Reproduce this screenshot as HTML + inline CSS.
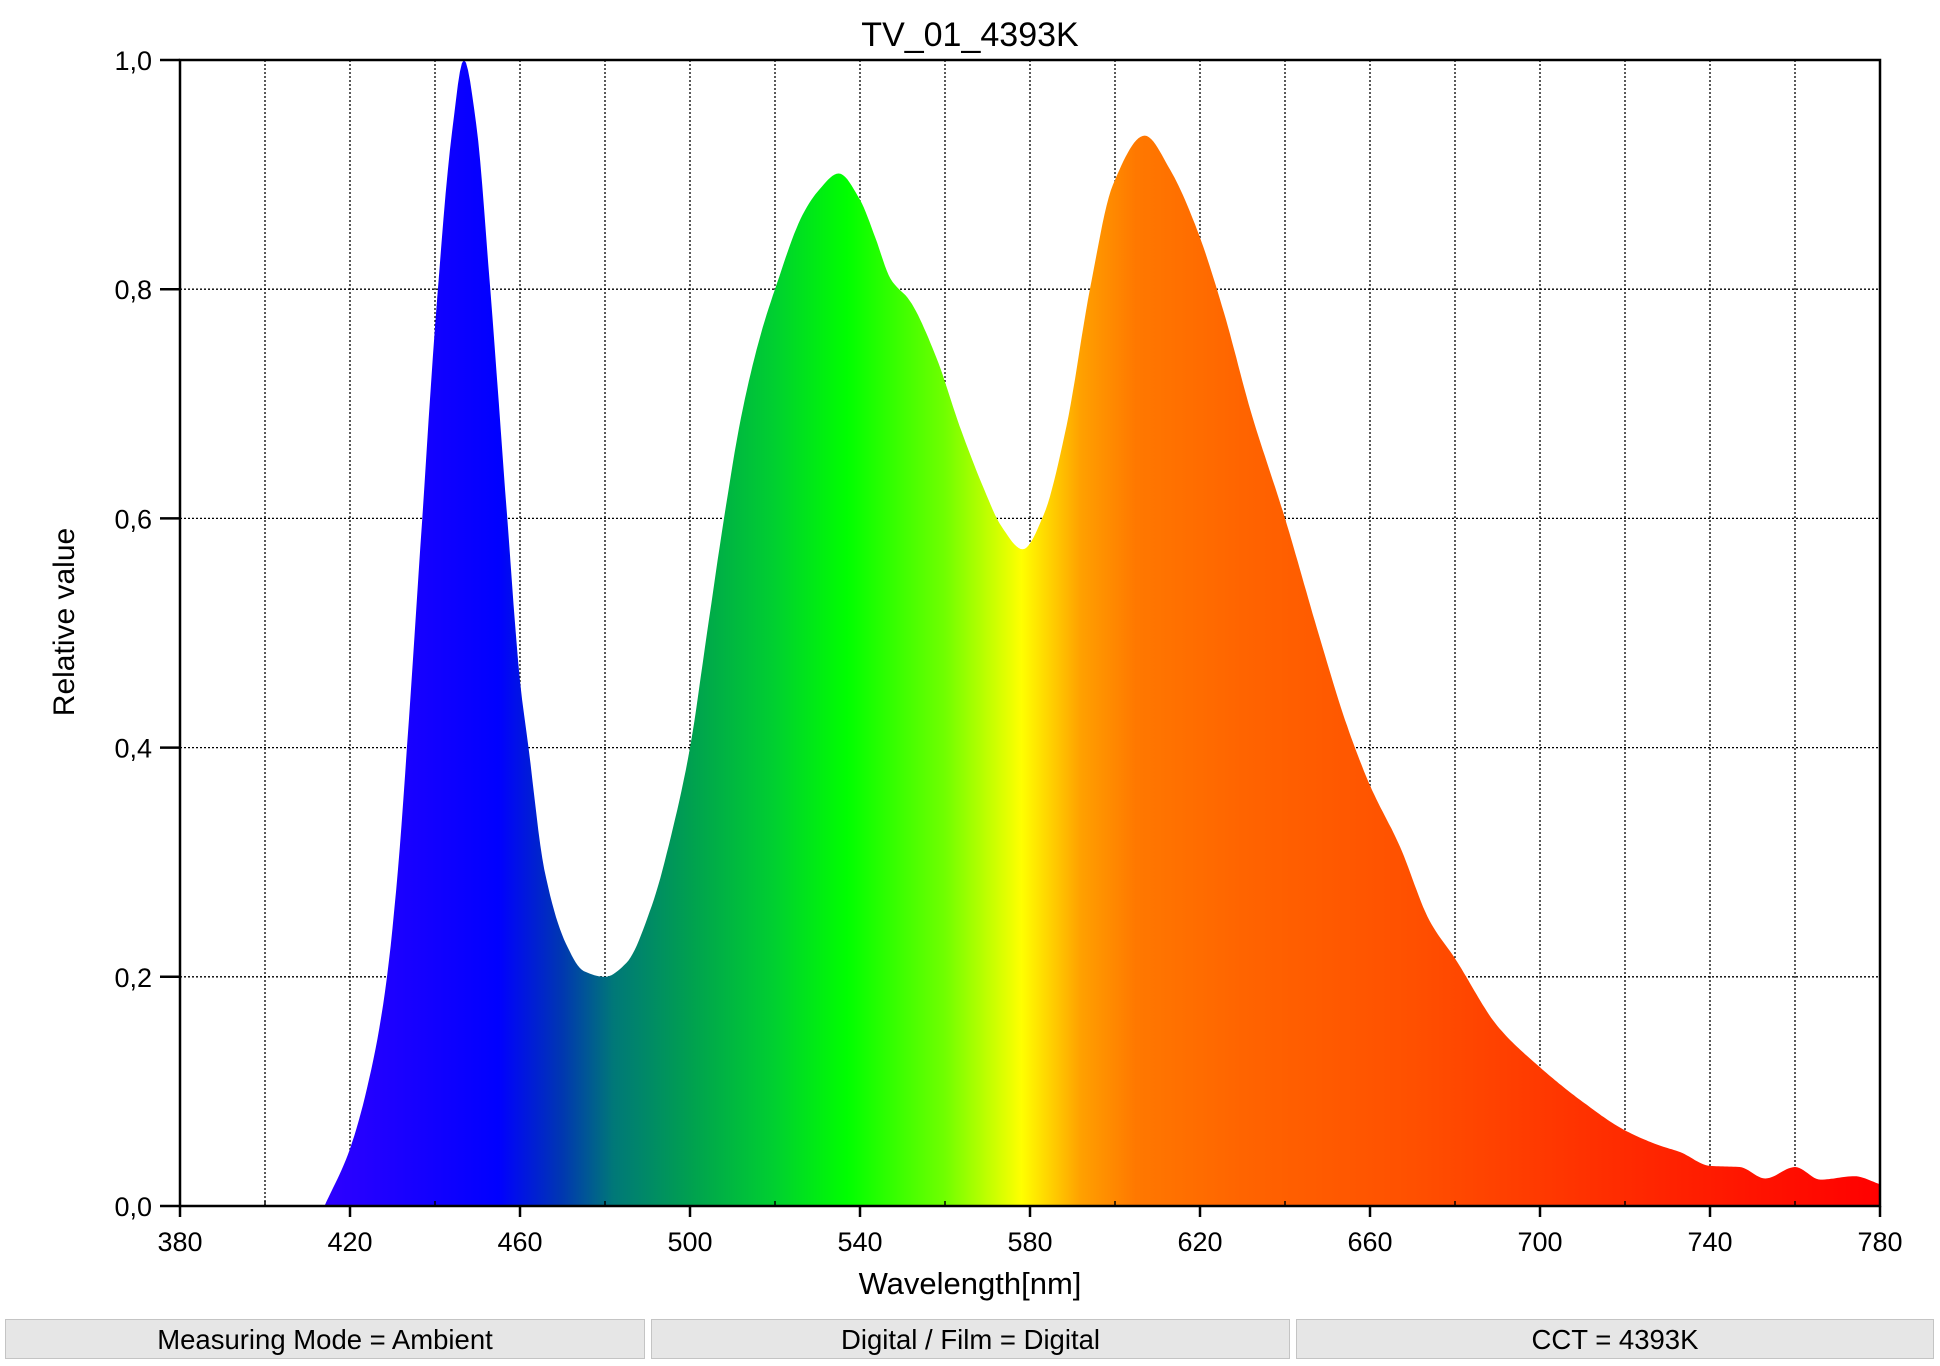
<!DOCTYPE html>
<html><head><meta charset="utf-8"><style>
html,body{margin:0;padding:0;background:#fff;width:1940px;height:1366px;overflow:hidden;font-family:"Liberation Sans",sans-serif;}
.panel{position:absolute;top:1319px;height:40px;background:#e6e6e6;border:1px solid #c4c4c4;box-sizing:border-box;font-size:27.5px;line-height:40px;text-align:center;color:#000;}
</style></head><body>
<svg id="chart" width="1940" height="1310" style="position:absolute;left:0;top:0" xmlns="http://www.w3.org/2000/svg">
<defs>
<linearGradient id="spec" gradientUnits="userSpaceOnUse" x1="180" y1="0" x2="1880" y2="0"></linearGradient>
</defs>
<text x="970" y="46" font-size="34" text-anchor="middle" font-family="Liberation Sans">TV_01_4393K</text>
<g id="grid"></g>
<path id="area" fill="url(#spec)"></path>
<g id="axes"></g>
<text x="970" y="1294" font-size="31" text-anchor="middle" font-family="Liberation Sans">Wavelength[nm]</text>
<text x="0" y="0" font-size="30" text-anchor="middle" font-family="Liberation Sans" transform="translate(74,622) rotate(-90)">Relative value</text>
</svg>
<div class="panel" style="left:5px;width:640px;">Measuring Mode = Ambient</div>
<div class="panel" style="left:651px;width:639px;">Digital / Film = Digital</div>
<div class="panel" style="left:1296px;width:638px;">CCT = 4393K</div>
<script>
const wavelengths = [414,420,426,428.7,431.3,433.4,437,440,444,446.8,449.7,453,457,460,462,465.7,470.8,475,480,485,491,496,500,504,508,512,516.6,520,526.5,530,535,540,543.6,547.2,551.7,558,563.4,568.8,573.3,578.3,583.2,588.6,594.1,599.5,607,613,619.3,625.6,631.9,640,648,654.6,660,667,674,680,690,700,710,720,728,733,740,747,753,760,766,774,780];
const values = [0,0.05,0.137,0.2,0.294,0.4,0.6,0.767,0.937,1.0,0.944,0.8,0.6,0.458,0.4,0.294,0.229,0.205,0.2,0.212,0.262,0.33,0.4,0.5,0.6,0.688,0.76,0.8,0.865,0.885,0.901,0.878,0.845,0.809,0.79,0.74,0.681,0.629,0.593,0.573,0.603,0.681,0.8,0.891,0.934,0.904,0.852,0.78,0.694,0.6,0.498,0.419,0.367,0.314,0.249,0.216,0.157,0.121,0.091,0.066,0.053,0.047,0.035,0.034,0.024,0.034,0.023,0.026,0.019];
const xTicks = [380,420,460,500,540,580,620,660,700,740,780];
const yTicks = [0,0.2,0.4,0.6,0.8,1.0];
const yTickLabels = ["0,0","0,2","0,4","0,6","0,8","1,0"];
const colorStops = [[414,"#2e00ff"],[430,"#1c00ff"],[455,"#0000ff"],[470,"#0038b0"],[482,"#007878"],[500,"#00a050"],[520,"#00d030"],[537,"#00ff00"],[560,"#70ff00"],[578,"#ffff00"],[592,"#ffa000"],[605,"#ff7800"],[630,"#ff6400"],[670,"#ff5000"],[710,"#ff3200"],[750,"#ff1400"],[780,"#ff0000"]];

const X0=180,X1=1880,Y0=1206,Y1=60;
function sx(w){return X0+(w-380)/400*(X1-X0);}
function sy(v){return Y0-v*(Y0-Y1);}
const NS="http://www.w3.org/2000/svg";
function mk(tag,attrs,parent){const e=document.createElementNS(NS,tag);for(const k in attrs)e.setAttribute(k,attrs[k]);parent.appendChild(e);return e;}

const grad=document.getElementById('spec');
colorStops.forEach(s=>{
  const st=mk('stop',{offset:((sx(s[0])-X0)/(X1-X0)).toFixed(4),'stop-color':s[1]},grad);
  
  
});

const grid=document.getElementById('grid');
for(let w=400;w<780;w+=20){
  const l=mk('line',{x1:sx(w),x2:sx(w),y1:Y1,y2:Y0,stroke:'#000','stroke-width':1.3,'stroke-dasharray':'2,2'},grid);
  
  
}
yTicks.slice(1,-1).forEach(v=>{
  const l=mk('line',{x1:X0,x2:X1,y1:sy(v),y2:sy(v),stroke:'#000','stroke-width':1.3,'stroke-dasharray':'2,2'},grid);
  
  
});

// monotone cubic (Fritsch-Carlson) interpolation
const n=wavelengths.length;
const dx=[],sl=[];
for(let i=0;i<n-1;i++){dx.push(wavelengths[i+1]-wavelengths[i]);sl.push((values[i+1]-values[i])/dx[i]);}
const m=new Array(n);
m[0]=sl[0];m[n-1]=sl[n-2];
for(let i=1;i<n-1;i++){
  if(sl[i-1]*sl[i]<=0)m[i]=0;
  else{const w1=2*dx[i]+dx[i-1],w2=dx[i]+2*dx[i-1];m[i]=(w1+w2)/(w1/sl[i-1]+w2/sl[i]);}
}
let d=`M${sx(wavelengths[0])},${Y0}`;
for(let i=0;i<n-1;i++){
  const steps=Math.max(2,Math.ceil(dx[i]/0.5));
  for(let k=0;k<=steps;k++){
    if(i>0&&k===0)continue;
    const t=k/steps,h=dx[i];
    const h00=2*t*t*t-3*t*t+1,h10=t*t*t-2*t*t+t,h01=-2*t*t*t+3*t*t,h11=t*t*t-t*t;
    const v=h00*values[i]+h10*h*m[i]+h01*values[i+1]+h11*h*m[i+1];
    d+=` L${sx(wavelengths[i]+t*h).toFixed(1)},${Math.min(sy(v),Y0).toFixed(1)}`;
  }
}
d+=` L${sx(wavelengths[n-1])},${Y0} Z`;
document.getElementById('area').setAttribute('d',d);

const axes=document.getElementById('axes');
const frame=mk('path',{d:`M${X0},${Y0} L${X0},${Y1} L${X1},${Y1} L${X1},${Y0} Z`,fill:'none',stroke:'#000','stroke-width':2.5},axes);


yTicks.forEach((v,i)=>{
  const t=mk('line',{x1:X0-20,x2:X0,y1:sy(v),y2:sy(v),stroke:'#000','stroke-width':2.5},axes);
  
  
  const tx=mk('text',{x:X0-28,y:sy(v)+10,'font-size':27,'text-anchor':'end','font-family':'Liberation Sans'},axes);
  tx.textContent=yTickLabels[i];
  
  
});
for(let w=400;w<780;w+=40){
  const t=mk('line',{x1:sx(w),x2:sx(w),y1:Y0-5,y2:Y0,stroke:'#000','stroke-width':1.5},axes);
  
  
}
xTicks.forEach(w=>{
  const t=mk('line',{x1:sx(w),x2:sx(w),y1:Y0,y2:Y0+11,stroke:'#000','stroke-width':2.5},axes);
  
  
  const tx=mk('text',{x:sx(w),y:Y0+45,'font-size':27,'text-anchor':'middle','font-family':'Liberation Sans'},axes);
  tx.textContent=String(w);
  
  
});
</script>
</body></html>
